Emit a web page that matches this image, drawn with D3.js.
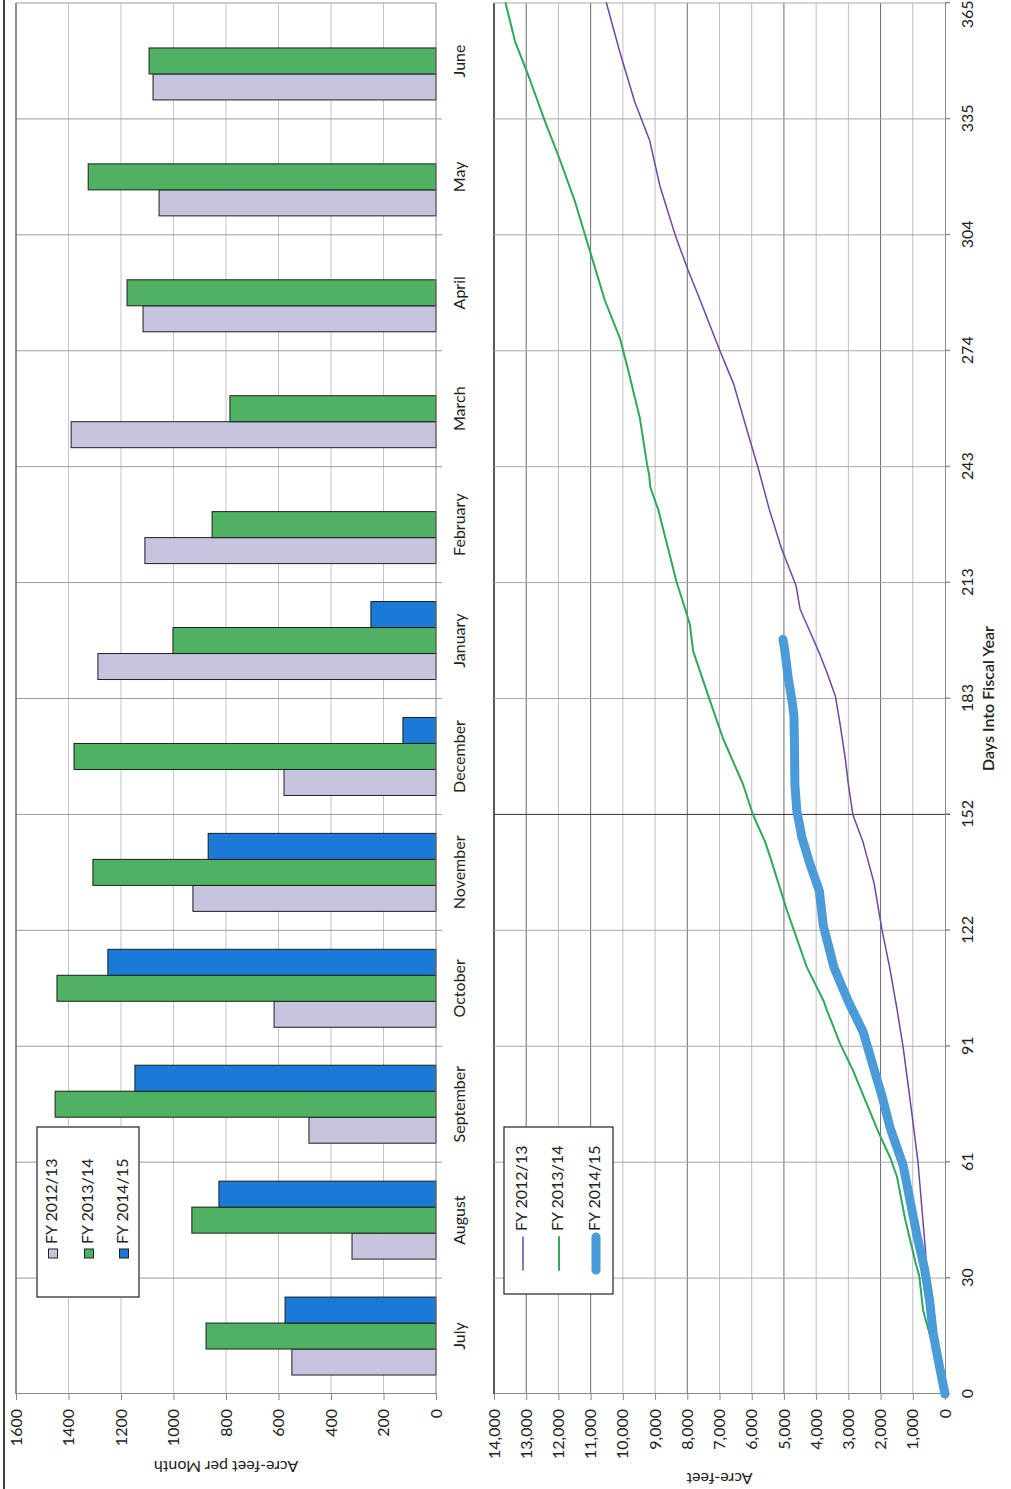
<!DOCTYPE html>
<html>
<head>
<meta charset="utf-8">
<script src="https://cdn.jsdelivr.net/npm/d3@7"></script>
<style>
  html, body { margin: 0; padding: 0; background: #fff; }
  svg { display: block; }
  text { font-family: Lato, "Open Sans", sans-serif; fill: #222; }
</style>
</head>
<body>
<svg id="chart" width="1011" height="1489"></svg>
<script>
// ---------------- DATA ----------------
const months = ["July","August","September","October","November","December","January","February","March","April","May","June"];
const seriesNames = ["FY 2012/13","FY 2013/14","FY 2014/15"];
const fy1213Monthly = [549, 320, 484, 617, 926, 579, 1288, 1109, 1390, 1116, 1055, 1078];
const fy1314Monthly = [876, 930, 1451, 1444, 1307, 1379, 1002, 853, 785, 1177, 1325, 1093];
const fy1415Monthly = [575, 827, 1147, 1250, 868, 126, 248, null, null, null, null, null];
const barTicks = [0, 200, 400, 600, 800, 1000, 1200, 1400, 1600];

// cumulative acre-feet vs day into fiscal year
const fy1213Cum = [[0,0],[10,170],[20,350],[31,549],[38,610],[50,730],[61,840],[75,1050],[91,1300],[101,1490],[112,1720],[122,1960],[134,2200],[145,2550],[152,2860],[160,3000],[167,3100],[176,3260],[183,3400],[189,3650],[194,3880],[200,4190],[206,4500],[212,4620],[222,5080],[232,5450],[243,5800],[253,6150],[265,6560],[274,7000],[287,7600],[295,7980],[304,8370],[317,8850],[329,9170],[339,9630],[352,10090],[365,10510]];
const fy1314Cum = [[0,0],[10,290],[22,680],[31,800],[34,900],[46,1240],[57,1490],[62,1700],[69,2080],[85,2860],[92,3260],[101,3680],[103,3760],[112,4290],[127,4910],[141,5430],[145,5590],[152,5960],[160,6270],[172,6890],[182,7300],[195,7820],[202,7920],[208,8140],[213,8330],[222,8600],[232,8900],[238,9150],[241,9180],[244,9250],[256,9470],[269,9845],[277,10090],[287,10560],[300,11025],[313,11490],[324,11960],[334,12420],[345,12890],[355,13350],[365,13640]];
const fy1415Cum = [[0,0],[8,190],[16,370],[24,470],[29,560],[33,640],[36,720],[42,880],[51,1090],[60,1300],[70,1710],[78,1950],[86,2230],[95,2540],[103,3000],[112,3450],[123,3780],[132,3900],[139,4190],[146,4440],[153,4600],[160,4660],[169,4670],[178,4690],[182,4750],[188,4870],[195,4970],[198,5030]];
const lineTicks = [0,1000,2000,3000,4000,5000,6000,7000,8000,9000,10000,11000,12000,13000,14000];
const dayTickLabels = ["0","30","61","91","122","152","183","213","243","274","304","335","365"];

// ---------------- LAYOUT ----------------
const svg = d3.select("#chart");
// whole chart is drawn in a landscape frame (1489 wide x 1011 tall) and turned a quarter counter-clockwise
const g = svg.append("g").attr("transform", "translate(0,1489) rotate(-90)");

const barColors = ["#c6c4df", "#4fb262", "#1a7ad6"];
const lineColors = ["#6d46a6", "#2fa85a", "#4a9bd8"];
const lineWidths = [1.5, 2, 9];
const FONT = 16;

// ----- BAR CHART -----
const bx = d3.scaleBand().domain(months).range([95, 1486]);
const bxSub = d3.scaleBand().domain(seriesNames).range([0, bx.bandwidth()]).paddingInner(0).paddingOuter(0.73);
const by = d3.scaleLinear().domain([0, 1600]).range([436, 16]);

// value gridlines
g.append("g").selectAll("line").data(barTicks.slice(1)).join("line")
  .attr("x1", 95).attr("x2", 1486)
  .attr("y1", d => by(d)).attr("y2", d => by(d))
  .attr("stroke", "#c4c4c4").attr("stroke-width", 1);
// category gridlines
g.append("g").selectAll("line").data(months.slice(1)).join("line")
  .attr("x1", d => bx(d)).attr("x2", d => bx(d))
  .attr("y1", 16).attr("y2", 442)
  .attr("stroke", "#9a9a9a").attr("stroke-width", 1);
// plot frame
g.append("line").attr("x1", 95).attr("x2", 1486).attr("y1", 16).attr("y2", 16).attr("stroke", "#555").attr("stroke-width", 1.2);
g.append("line").attr("x1", 1486).attr("x2", 1486).attr("y1", 16).attr("y2", 436).attr("stroke", "#999");

const barSeries = [fy1213Monthly, fy1314Monthly, fy1415Monthly];
barSeries.forEach((vals, si) => {
  g.append("g").selectAll("rect")
    .data(months.map((m, i) => ({m, v: vals[i]})).filter(d => d.v != null))
    .join("rect")
    .attr("x", d => bx(d.m) + bxSub(seriesNames[si]))
    .attr("width", bxSub.bandwidth())
    .attr("y", d => by(d.v))
    .attr("height", d => by(0) - by(d.v))
    .attr("fill", barColors[si])
    .attr("stroke", "#1e1e1e").attr("stroke-width", 1);
});

// value axis (left)
const bAxis = g.append("g").attr("transform", "translate(95,0)")
  .call(d3.axisLeft(by).tickValues(barTicks).tickSize(6).tickPadding(9).tickFormat(d3.format("d")));
bAxis.select(".domain").attr("stroke", "#888");
bAxis.selectAll(".tick line").attr("stroke", "#888");
bAxis.selectAll("text").attr("font-size", FONT).attr("fill", "#222").style("font-family", "Lato, sans-serif");
// category axis (baseline)
g.append("line").attr("x1", 95).attr("x2", 1486).attr("y1", by(0)).attr("y2", by(0)).attr("stroke", "#888");
g.append("g").selectAll("text").data(months).join("text")
  .attr("x", d => bx(d) + bx.bandwidth() / 2).attr("y", 461)
  .attr("text-anchor", "middle").attr("dominant-baseline", "middle")
  .attr("font-size", FONT).text(d => d);
// axis title
g.append("text").attr("transform", `translate(24,${(16 + 436) / 2}) rotate(-90)`)
  .attr("text-anchor", "middle").attr("dominant-baseline", "middle")
  .attr("font-size", FONT).text("Acre-feet per Month");

// legend (bars)
const bl = g.append("g");
bl.append("rect").attr("x", 192).attr("y", 37).attr("width", 170).attr("height", 102)
  .attr("fill", "#fff").attr("stroke", "#222").attr("stroke-width", 1.2);
const blRows = [53, 89, 124];
seriesNames.forEach((s, i) => {
  bl.append("rect").attr("x", 231).attr("y", blRows[i] - 4.5).attr("width", 9).attr("height", 9)
    .attr("fill", barColors[i]).attr("stroke", "#222").attr("stroke-width", 1);
  bl.append("text").attr("x", 245).attr("y", blRows[i]).attr("dominant-baseline", "middle")
    .attr("font-size", FONT).text(s);
});

// ----- LINE CHART -----
const lx = d3.scaleLinear().domain([0, 365]).range([95, 1486]);
const ly = d3.scaleLinear().domain([0, 14000]).range([945, 494]);
const dayTickVals = dayTickLabels.map((_, i) => i * 365 / 12);
const darkGrid = new Set([2000, 5000, 8000, 11000, 13000]);

g.append("g").selectAll("line").data(lineTicks.slice(1)).join("line")
  .attr("x1", 95).attr("x2", 1486)
  .attr("y1", d => ly(d)).attr("y2", d => ly(d))
  .attr("stroke", d => d === 14000 ? "#222" : (darkGrid.has(d) ? "#6a6a6a" : "#bdbdbd"))
  .attr("stroke-width", d => d === 14000 ? 1.5 : 1);
g.append("g").selectAll("line").data(dayTickVals.slice(1)).join("line")
  .attr("x1", d => lx(d)).attr("x2", d => lx(d))
  .attr("y1", 494).attr("y2", 950)
  .attr("stroke", (d, i) => i === 4 ? "#333" : "#a8a8a8").attr("stroke-width", 1);

const lAxis = g.append("g").attr("transform", "translate(95,0)")
  .call(d3.axisLeft(ly).tickValues(lineTicks).tickSize(6).tickPadding(9).tickFormat(d3.format(",")));
lAxis.select(".domain").attr("stroke", "#888");
lAxis.selectAll(".tick line").attr("stroke", "#888");
lAxis.selectAll("text").attr("font-size", FONT).attr("fill", "#222").style("font-family", "Lato, sans-serif");

const dAxis = g.append("g").attr("transform", "translate(0,945)")
  .call(d3.axisBottom(lx).tickValues(dayTickVals).tickSize(5).tickPadding(12).tickFormat((d, i) => dayTickLabels[i]));
dAxis.select(".domain").attr("stroke", "#888");
dAxis.selectAll(".tick line").attr("stroke", "#888");
dAxis.selectAll("text").attr("font-size", FONT).attr("fill", "#222").style("font-family", "Lato, sans-serif");
// keep the last day label inside the picture
dAxis.selectAll(".tick text").filter((d, i) => i === dayTickLabels.length - 1)
  .attr("text-anchor", "end").attr("x", 1489 - lx(365) - 1);

g.append("text").attr("x", (95 + 1486) / 2).attr("y", 990)
  .attr("text-anchor", "middle").attr("dominant-baseline", "middle")
  .attr("font-size", FONT).attr("font-weight", 600).text("Days Into Fiscal Year");
g.append("text").attr("transform", `translate(12,${(494 + 945) / 2}) rotate(-90)`)
  .attr("text-anchor", "middle").attr("dominant-baseline", "middle")
  .attr("font-size", FONT).text("Acre-feet");

const line = d3.line().x(d => lx(d[0])).y(d => ly(d[1])).curve(d3.curveLinear);
[fy1213Cum, fy1314Cum, fy1415Cum].forEach((data, i) => {
  g.append("path").datum(data).attr("d", line)
    .attr("fill", "none").attr("stroke", lineColors[i]).attr("stroke-width", lineWidths[i])
    .attr("stroke-linecap", "round").attr("stroke-linejoin", "round");
});

// legend (lines)
const ll = g.append("g");
ll.append("rect").attr("x", 195).attr("y", 504).attr("width", 167).attr("height", 109)
  .attr("fill", "#fff").attr("stroke", "#222").attr("stroke-width", 1.2);
const llRows = [523, 559, 596];
seriesNames.forEach((s, i) => {
  ll.append("line").attr("x1", 219).attr("x2", 252).attr("y1", llRows[i]).attr("y2", llRows[i])
    .attr("stroke", lineColors[i]).attr("stroke-width", lineWidths[i]).attr("stroke-linecap", "round");
  ll.append("text").attr("x", 258).attr("y", llRows[i]).attr("dominant-baseline", "middle")
    .attr("font-size", FONT).text(s);
});

// outer page edge
g.append("line").attr("x1", 0).attr("x2", 1489).attr("y1", 4).attr("y2", 4).attr("stroke", "#444").attr("stroke-width", 2);
</script>
</body>
</html>
